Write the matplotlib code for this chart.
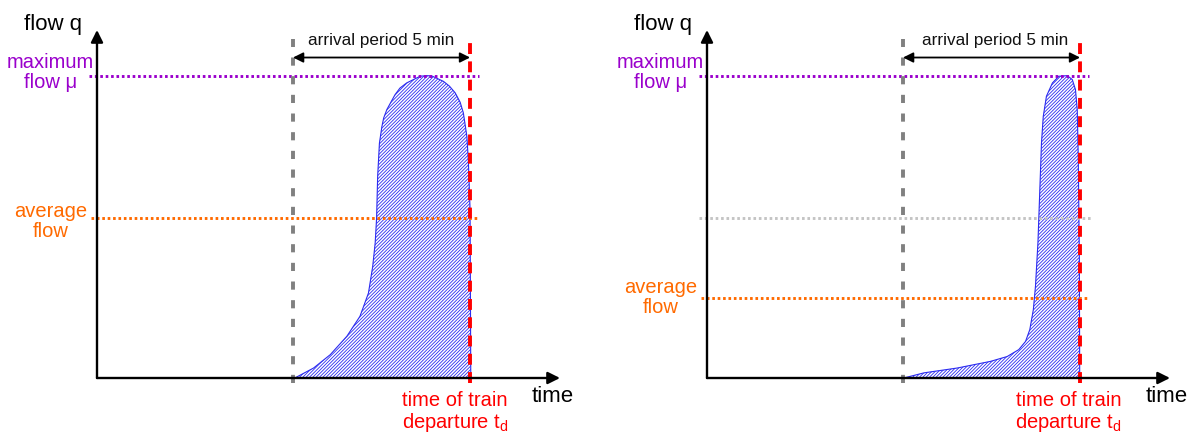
import matplotlib
matplotlib.use("Agg")
import matplotlib.pyplot as plt

plt.rcParams['font.family'] = ['Liberation Sans', 'DejaVu Sans']
plt.rcParams['mathtext.default'] = 'regular'
plt.rcParams['hatch.linewidth'] = 0.6

# ---- data (time in minutes relative to start of arrival period, flow relative to max flow) ----
period_start = 0.0
departure = 5.0
max_flow = 1.0

left_t = [0.05, 0.58, 1.05, 1.52, 1.89, 2.13, 2.25, 2.32, 2.36, 2.39, 2.44, 2.51, 2.56, 2.65,
          2.88, 3.02, 3.21, 3.59, 3.76, 3.92, 4.25, 4.42, 4.58, 4.72, 4.81, 4.91, 4.95, 5.00,
          5.01, 5.02]
left_q = [0.0, 0.033, 0.077, 0.138, 0.204, 0.281, 0.369, 0.447, 0.529, 0.667, 0.777, 0.832, 0.860,
          0.888, 0.937, 0.959, 0.976, 0.998, 1.0, 0.999, 0.981, 0.965, 0.943, 0.912, 0.877,
          0.799, 0.722, 0.557, 0.281, 0.0]
left_avg = 0.529

right_t = [0.02, 0.59, 1.53, 2.47, 2.94, 3.27, 3.46, 3.58, 3.68, 3.74, 3.81, 3.86, 3.91,
           3.96, 4.05, 4.22, 4.40, 4.64, 4.78, 4.87, 4.92, 4.95, 4.98, 4.99]
right_q = [0.0, 0.017, 0.033, 0.055, 0.071, 0.094, 0.121, 0.160, 0.226, 0.303, 0.447, 0.612, 0.777,
           0.865, 0.932, 0.976, 0.998, 1.0, 0.987, 0.954, 0.888, 0.722, 0.391, 0.0]
right_avg = 0.266
right_ref = 0.529  # grey reference line (average flow of left case)

W, H = 1194, 432
fig = plt.figure(figsize=(W / 100, H / 100), dpi=100)

PURPLE = '#9a00cc'
ORANGE = '#ff6a00'
BLUE = '#2b2bf0'

xmin, xmax = -5.537, 7.54
ymin, ymax = 0.0, 1.151


def panel(left_px, t, q, avg, time_x, dep_x, arr_x, ref=None):
    ax = fig.add_axes([left_px / W, (H - 378) / H, (560 - 97) / W, (378 - 30) / H])
    ax.set_xlim(xmin, xmax)
    ax.set_ylim(ymin, ymax)
    ax.axis('off')

    # hatched arrival curve
    ax.fill_between(t, q, 0, facecolor='white', edgecolor=BLUE, hatch='//////////',
                    linewidth=0.8, zorder=2)

    # horizontal reference lines
    dot = (0, (0.9, 0.95))
    if ref is not None:
        ax.plot([-5.75, 5.3], [ref, ref], color='#c4c4c4', lw=2.1, linestyle=dot,
                zorder=3, clip_on=False)
    ax.plot([-5.75, 5.25], [max_flow, max_flow], color=PURPLE, lw=2.1, linestyle=dot,
            zorder=3, clip_on=False)
    ax.plot([-5.7, 5.25], [avg, avg], color=ORANGE, lw=2.1, linestyle=dot,
            zorder=3, clip_on=False)

    # vertical dashed lines
    ax.plot([period_start, period_start], [-0.017, 1.12], color='#808080', lw=2.8,
            dashes=(2.1, 2.7), zorder=4, clip_on=False)
    ax.plot([departure, departure], [-0.017, 1.12], color='#ff0000', lw=2.8,
            dashes=(2.8, 1.9), zorder=4, clip_on=False)

    # axes with arrows
    ax.annotate('', xy=(xmax, 0), xytext=(xmin, 0),
                arrowprops=dict(arrowstyle='-|>', color='black', lw=1.7,
                                mutation_scale=18, shrinkA=0, shrinkB=0),
                annotation_clip=False, zorder=5)
    ax.annotate('', xy=(xmin, ymax), xytext=(xmin, 0),
                arrowprops=dict(arrowstyle='-|>', color='black', lw=1.7,
                                mutation_scale=18, shrinkA=0, shrinkB=0),
                annotation_clip=False, zorder=5)

    # arrival period arrow
    ax.annotate('', xy=(departure, 1.06), xytext=(period_start, 1.06),
                arrowprops=dict(arrowstyle='<|-|>', color='black', lw=1.3,
                                mutation_scale=15, shrinkA=0, shrinkB=0),
                annotation_clip=False, zorder=5)
    ax.text(arr_x, 1.115, 'arrival period 5 min', ha='center', va='center',
            fontsize=12.3, color='#111111')

    # labels
    ax.text(-6.78, 1.168, 'flow q', ha='center', va='center', fontsize=16, clip_on=False)
    ax.text(time_x, -0.06, 'time', ha='center', va='center', fontsize=16, clip_on=False)
    ax.text(-6.86, 1.01, 'maximum\nflow μ', ha='center', va='center', fontsize=14.5,
            color=PURPLE, linespacing=1.05, clip_on=False)
    avg_y = avg - 0.012 if ref is None else avg
    ax.text(-6.85, avg_y, 'average\nflow', ha='center', va='center', fontsize=14.5,
            color=ORANGE, linespacing=1.05, clip_on=False)
    ax.text(dep_x, -0.113, 'time of train\ndeparture t$_d$', ha='center', va='center',
            fontsize=14.5, color='#ff0000', linespacing=1.05, clip_on=False)
    return ax


panel(97, left_t, left_q, left_avg, time_x=7.32, dep_x=4.58, arr_x=2.5)
panel(707, right_t, right_q, right_avg, time_x=7.46, dep_x=4.68, arr_x=2.6, ref=right_ref)

fig.savefig('out.png', dpi=100)
